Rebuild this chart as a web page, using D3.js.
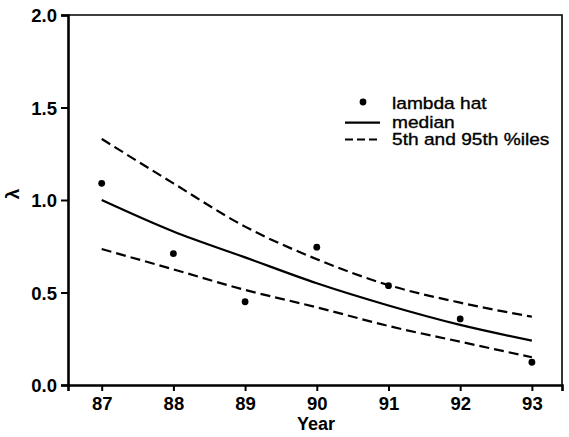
<!DOCTYPE html>
<html><head><meta charset="utf-8">
<script src="https://cdn.jsdelivr.net/npm/d3@7/dist/d3.min.js"></script>
<style>body{margin:0;background:#fff}svg{display:block}</style>
</head><body>
<script>
const years = [87, 88, 89, 90, 91, 92, 93];
const lambdaHat = [1.09, 0.71, 0.45, 0.745, 0.537, 0.357, 0.123];
const median = [1.0, 0.83, 0.69, 0.55, 0.43, 0.325, 0.24];
const upper95 = [1.33, 1.09, 0.856, 0.68, 0.54, 0.445, 0.369];
const lower5 = [0.735, 0.625, 0.514, 0.42, 0.319, 0.234, 0.15];
const yTicks = [0.0, 0.5, 1.0, 1.5, 2.0];
const legendLabels = ["lambda hat", "median", "5th and 95th %iles"];

const W = 569, H = 437;
const svg = d3.select("body").append("svg").attr("width", W).attr("height", H);
const x = d3.scaleLinear().domain([86.53, 93.42]).range([68, 562]);
const y = d3.scaleLinear().domain([0, 2]).range([385, 15]);
const font = "'Liberation Sans', Arial, sans-serif";

// frame top/right
svg.append("path").attr("d", `M${x.range()[0]},${y(2)}H${x.range()[1]}V${y(0)}`)
  .attr("fill", "none").attr("stroke", "#000").attr("stroke-width", 1.6);

// axes
const yAxis = d3.axisLeft(y).tickValues(yTicks).tickFormat(d3.format(".1f")).tickSize(7).tickPadding(4);
const gy = svg.append("g").attr("transform", `translate(${x.range()[0]},0)`).call(yAxis);
const xAxis = d3.axisBottom(x).tickValues(years).tickFormat(d3.format("d")).tickSize(6).tickPadding(6);
const gx = svg.append("g").attr("transform", `translate(0,${y(0)})`).call(xAxis);
[gy, gx].forEach(g => {
  g.select(".domain").attr("stroke-width", 2.6).attr("stroke", "#000");
  g.selectAll(".tick line").attr("stroke-width", 2).attr("stroke", "#000");
  g.selectAll(".tick text").attr("font-family", font).attr("font-weight", "bold")
    .attr("font-size", 18.5).attr("fill", "#000");
});
gy.selectAll(".tick text").attr("dy", "0.36em");
gx.selectAll(".tick text").attr("dy", "0.72em");

// axis titles
svg.append("text").attr("x", 316).attr("y", 430).attr("text-anchor", "middle")
  .attr("font-family", font).attr("font-weight", "bold").attr("font-size", 18).text("Year");
svg.append("text").attr("transform", "translate(19,194) rotate(-90)").attr("text-anchor", "middle")
  .attr("font-family", font).attr("font-weight", "bold").attr("font-size", 19).text("λ");

// lines
const line = arr => d3.line().x((d, i) => x(years[i])).y(d => y(d)).curve(d3.curveMonotoneX)(arr);
svg.append("path").attr("d", line(median)).attr("fill", "none").attr("stroke", "#000").attr("stroke-width", 2.2);
[upper95, lower5].forEach(arr => {
  svg.append("path").attr("d", line(arr)).attr("fill", "none").attr("stroke", "#000")
    .attr("stroke-width", 2.2).attr("stroke-dasharray", "10,5");
});
svg.selectAll("circle.pt").data(lambdaHat).enter().append("circle").attr("class", "pt")
  .attr("cx", (d, i) => x(years[i])).attr("cy", d => y(d)).attr("r", 3.4).attr("fill", "#000");

// legend
const lg = svg.append("g");
lg.append("circle").attr("cx", 363).attr("cy", 102).attr("r", 3.4).attr("fill", "#000");
lg.append("line").attr("x1", 345).attr("x2", 380).attr("y1", 122.7).attr("y2", 122.7)
  .attr("stroke", "#000").attr("stroke-width", 2.2);
lg.append("line").attr("x1", 345).attr("x2", 380).attr("y1", 139.5).attr("y2", 139.5)
  .attr("stroke", "#000").attr("stroke-width", 2.2).attr("stroke-dasharray", "8,4");
const lgY = [108.5, 128, 145];
legendLabels.forEach((t, i) => {
  lg.append("text").attr("transform", `translate(392,${lgY[i]}) scale(1.16,1)`)
    .attr("font-family", font).attr("font-size", 16.5).attr("stroke", "#000").attr("stroke-width", 0.35)
    .text(t);
});
</script>
</body></html>
